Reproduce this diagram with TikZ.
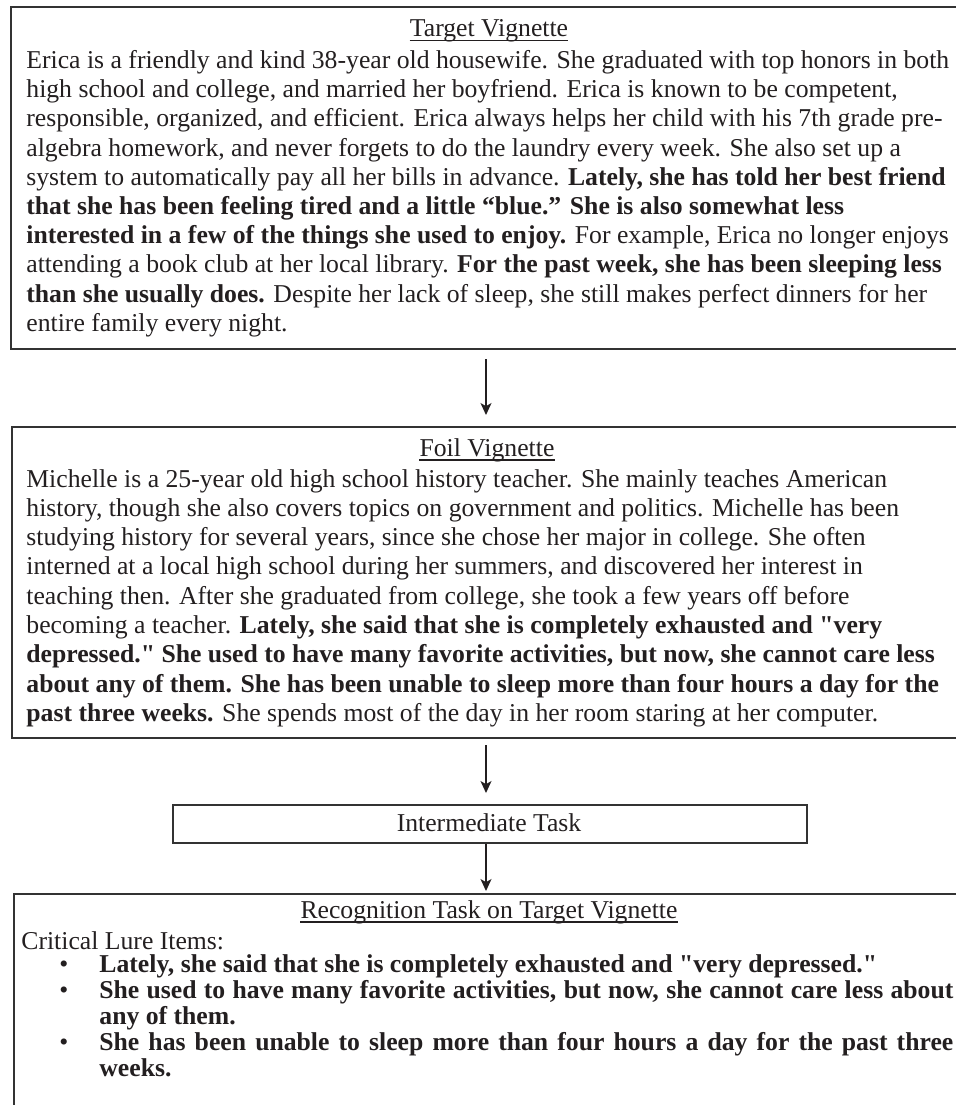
\documentclass[tikz,border=0pt]{standalone}
\usepackage{fontspec}
\setmainfont{Liberation Serif}
\usetikzlibrary{arrows.meta}
\definecolor{boxc}{HTML}{333333}
\definecolor{txtc}{HTML}{231F20}
\newcommand\sdq{\XeTeXglyph\XeTeXcharglyph"22\relax}
\tikzset{
  vbox/.style={draw=boxc, line width=1pt, inner sep=0pt, anchor=north west},
  ibox/.style={draw=boxc, line width=0.75pt, inner sep=0pt, anchor=north west},
  txt/.style={anchor=base west, inner sep=0pt, text=txtc, font=\fontsize{12.85pt}{14.6pt}\selectfont},
  ttl/.style={anchor=base, inner sep=0pt, text=txtc, font=\fontsize{12.85pt}{14.6pt}\selectfont},
  uline/.style={draw=txtc, line width=0.7pt},
  arr/.style={draw=txtc, line width=0.65pt, -{Stealth[length=6pt,width=5.5pt,inset=1.6pt]}}
}
\begin{document}
\begin{tikzpicture}[x=0.5pt,y=-0.5pt]
\useasboundingbox (0,0) rectangle (956,1105);
% boxes
\node[vbox, minimum width=480.25pt, minimum height=171pt] (tbox) at (9.5,6) {};
\node[vbox, minimum width=480pt, minimum height=155.5pt] (fbox) at (10.7,426) {};
\node[ibox, minimum width=317pt, minimum height=19pt] (ibx) at (172,804) {};
\node[vbox, minimum width=480pt, minimum height=125pt] (rbox) at (13,893) {};
\coordinate (ax) at (486,0);
% arrows
\draw[arr, shorten <=4.5pt, shorten >=5.5pt] (tbox.south -| ax) -- (fbox.north -| ax);
\draw[arr, shorten <=3pt, shorten >=5.5pt] (fbox.south -| ax) -- (ibx.north -| ax);
\draw[arr, shorten >=1pt] (ibx.south -| ax) -- (rbox.north -| ax);
% target
\node[ttl] (tv) at (489,36.7) {Target Vignette};
\draw[uline] ([yshift=-2pt]tv.base west) -- ([yshift=-2pt]tv.base east);
\node[txt] (t1) at (26,68.5) {Erica is a friendly and kind 38-year old housewife. She graduated with top honors in both};
\node[txt] (t2) at (26,97.7) {high school and college, and married her boyfriend. Erica is known to be competent,};
\node[txt] (t3) at (26,126.9) {responsible, organized, and efficient. Erica always helps her child with his 7th grade pre-};
\node[txt] (t4) at (26,156.1) {algebra homework, and never forgets to do the laundry every week. She also set up a};
\node[txt] (t5) at (26,185.3) {system to automatically pay all her bills in advance. \textbf{Lately, she has told her best friend}};
\node[txt] (t6) at (26,214.5) {\textbf{that she has been feeling tired and a little “blue.” She is also somewhat less}};
\node[txt] (t7) at (26,243.7) {\textbf{interested in a few of the things she used to enjoy.} For example, Erica no longer enjoys};
\node[txt] (t8) at (26,272.9) {attending a book club at her local library. \textbf{For the past week, she has been sleeping less}};
\node[txt] (t9) at (26,302.1) {\textbf{than she usually does.} Despite her lack of sleep, she still makes perfect dinners for her};
\node[txt] (t10) at (26,331.3) {entire family every night.};
% foil
\node[ttl] (fv) at (487,456) {Foil Vignette};
\draw[uline] ([yshift=-2pt]fv.base west) -- ([yshift=-2pt]fv.base east);
\node[txt] (f1) at (26,487) {Michelle is a 25-year old high school history teacher. She mainly teaches American};
\node[txt] (f2) at (26,516.3) {history, though she also covers topics on government and politics. Michelle has been};
\node[txt] (f3) at (26,545.6) {studying history for several years, since she chose her major in college. She often};
\node[txt] (f4) at (26,574.9) {interned at a local high school during her summers, and discovered her interest in};
\node[txt] (f5) at (26,604.2) {teaching then. After she graduated from college, she took a few years off before};
\node[txt] (f6) at (26,633.5) {becoming a teacher. \textbf{Lately, she said that she is completely exhausted and \sdq very}};
\node[txt] (f7) at (26,662.8) {\textbf{depressed.\sdq\ She used to have many favorite activities, but now, she cannot care less}};
\node[txt] (f8) at (26,692.1) {\textbf{about any of them. She has been unable to sleep more than four hours a day for the}};
\node[txt] (f9) at (26,721.4) {\textbf{past three weeks.} She spends most of the day in her room staring at her computer.};
% intermediate
\node[ttl] (it) at (489,831) {Intermediate Task};
% recognition
\node[ttl] (rv) at (489,918.5) {Recognition Task on Target Vignette};
\draw[uline] ([yshift=-1.7pt]rv.base west) -- ([yshift=-1.7pt]rv.base east);
\node[txt] (cl) at (21,949) {Critical Lure Items:};
\node[txt] (b1) at (59,972) {•};
\node[txt] (b2) at (59,998) {•};
\node[txt] (b3) at (59,1050) {•};
\node[txt] (r1) at (99,972) {\textbf{Lately, she said that she is completely exhausted and \sdq very depressed.\sdq}};
\node[txt] (r2) at (99,998) {\makebox[427pt][s]{\textbf{She used to have many favorite activities, but now, she cannot care less about}}};
\node[txt] (r3) at (99,1024) {\textbf{any of them.}};
\node[txt] (r4) at (99,1050) {\makebox[427pt][s]{\textbf{She has been unable to sleep more than four hours a day for the past three}}};
\node[txt] (r5) at (99,1076) {\textbf{weeks.}};
\end{tikzpicture}
\end{document}
